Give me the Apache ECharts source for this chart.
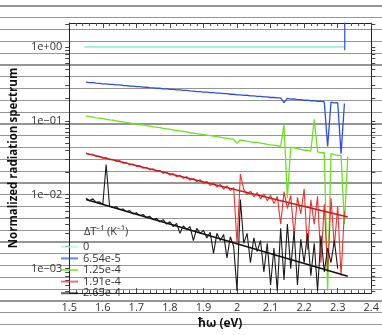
<!DOCTYPE html>
<html>
<head>
<meta charset="utf-8">
<script src="https://cdn.jsdelivr.net/npm/echarts@6.0.0/dist/echarts.min.js"></script>
<style>
  html, body { margin: 0; padding: 0; background: #fff; }
  .chart-box {
    width: 382px;
    height: 335px;
    /* the ruled grey lines of the scanned page */
    background-image: repeating-linear-gradient(to bottom, transparent 0px, transparent 5.4px, #959595 5.4px, #959595 6.6px, transparent 6.6px, transparent 11.8px);
  }
</style>
</head>
<body>
<div id="chart_spectrum" class="chart-box"></div>
<script>
  // photon energy, eV (sampling shared by the measured curves)
  var energy = [
    1.55, 1.56, 1.57, 1.58, 1.59, 1.60, 1.61, 1.62, 1.63, 1.64,
    1.65, 1.66, 1.67, 1.68, 1.69, 1.70, 1.71, 1.72, 1.73, 1.74,
    1.75, 1.76, 1.77, 1.78, 1.79, 1.80, 1.81, 1.82, 1.83, 1.84,
    1.85, 1.86, 1.87, 1.88, 1.89, 1.90, 1.91, 1.92, 1.93, 1.94,
    1.95, 1.96, 1.97, 1.98, 1.99, 2.00, 2.01, 2.02, 2.03, 2.04,
    2.05, 2.06, 2.07, 2.08, 2.09, 2.10, 2.11, 2.12, 2.13, 2.14,
    2.15, 2.16, 2.17, 2.18, 2.19, 2.20, 2.21, 2.22, 2.23, 2.24,
    2.25, 2.26, 2.27, 2.28, 2.29, 2.30, 2.31, 2.32, 2.33
  ];

  // ΔT^-1 = 0 : flat reference
  var flatEnergy = [1.545, 2.32];
  var flatLevel = [1, 1];

  // ΔT^-1 = 6.54e-5
  var blueVals = [
    0.335, 0.329, 0.330, 0.324, 0.322, 0.317, 0.317, 0.312, 0.311, 0.306,
    0.306, 0.301, 0.300, 0.296, 0.295, 0.290, 0.290, 0.286, 0.285, 0.281,
    0.280, 0.276, 0.276, 0.271, 0.271, 0.267, 0.266, 0.262, 0.262, 0.258,
    0.258, 0.254, 0.253, 0.249, 0.249, 0.245, 0.245, 0.241, 0.241, 0.237,
    0.237, 0.233, 0.233, 0.229, 0.229, 0.225, 0.225, 0.221, 0.222, 0.218,
    0.218, 0.214, 0.214, 0.211, 0.211, 0.207, 0.207, 0.204, 0.204, 0.176,
    0.201, 0.197, 0.198, 0.194, 0.194, 0.190, 0.191, 0.187, 0.188, 0.183,
    0.185, 0.180, 0.045, 0.179, 0.175, 0.176, 0.036, 0.172
  ];
  var blueSpikeEnergy = [2.321, 2.321];
  var blueSpikeVals = [3, 0.9];

  // ΔT^-1 = 1.25e-4
  var greenVals = [
    0.116, 0.114, 0.112, 0.110, 0.109, 0.107, 0.105, 0.103, 0.102, 0.100,
    0.098, 0.097, 0.095, 0.094, 0.092, 0.090, 0.089, 0.088, 0.086, 0.085,
    0.083, 0.082, 0.081, 0.079, 0.078, 0.077, 0.075, 0.074, 0.073, 0.072,
    0.071, 0.069, 0.068, 0.067, 0.066, 0.065, 0.064, 0.063, 0.062, 0.061,
    0.060, 0.059, 0.058, 0.057, 0.056, 0.050, 0.055, 0.054, 0.053, 0.052,
    0.051, 0.051, 0.050, 0.049, 0.048, 0.047, 0.047, 0.046, 0.045, 0.089,
    0.009, 0.044, 0.043, 0.042, 0.041, 0.040, 0.040, 0.039, 0.105, 0.038,
    0.037, 0.037, 0.0005, 0.036, 0.035, 0.034, 0.034, 0.004, 0.033
  ];

  // ΔT^-1 = 1.91e-4
  var redVals = [
    0.0368, 0.0350, 0.0352, 0.0330, 0.0333, 0.0312, 0.0318, 0.0298, 0.0301, 0.0283,
    0.0290, 0.0268, 0.0272, 0.0255, 0.0260, 0.0242, 0.0248, 0.0228, 0.0235, 0.0217,
    0.0224, 0.0205, 0.0213, 0.0195, 0.0203, 0.0184, 0.0193, 0.0175, 0.0184, 0.0166,
    0.0176, 0.0157, 0.0166, 0.0150, 0.0160, 0.0141, 0.0152, 0.0133, 0.0145, 0.0127,
    0.0138, 0.0119, 0.0132, 0.0114, 0.0125, 0.0022, 0.0190, 0.0118, 0.0100, 0.0112,
    0.0094, 0.0107, 0.0088, 0.0102, 0.0083, 0.0098, 0.0076, 0.0095, 0.0040, 0.0110,
    0.0065, 0.0098, 0.0028, 0.0092, 0.0055, 0.0120, 0.0018, 0.0085, 0.0040, 0.0095,
    0.0012, 0.0075, 0.0009, 0.0090, 0.0020, 0.0070, 0.0008, 0.0060
  ];

  // ΔT^-1 = 2.65e-4
  var blackVals = [
    0.0090, 0.0083, 0.0088, 0.0079, 0.0080, 0.0074, 0.0257, 0.0071, 0.0067, 0.0069,
    0.0063, 0.0064, 0.0059, 0.0061, 0.0055, 0.0057, 0.0052, 0.0054, 0.0049, 0.0051,
    0.0046, 0.0048, 0.0043, 0.0046, 0.0040, 0.0043, 0.0037, 0.0041, 0.0030, 0.0038,
    0.0034, 0.0037, 0.0024, 0.0035, 0.0030, 0.0033, 0.0026, 0.0031, 0.0016, 0.0030,
    0.0024, 0.0029, 0.0014, 0.0027, 0.0020, 0.0005, 0.0086, 0.0022, 0.0030, 0.0012,
    0.0026, 0.0017, 0.0024, 0.0009, 0.0022, 0.0006, 0.0019, 0.0005, 0.0035, 0.0007,
    0.0040, 0.0010, 0.0032, 0.0006, 0.0025, 0.0012, 0.0030, 0.0008, 0.0022, 0.0005,
    0.0028, 0.0009, 0.0019, 0.0012, 0.0024, 0.0010
  ];

  // exponential fits
  var fitEnergy = [1.55, 2.33];
  var redFit = [0.0363, 0.0050];
  var blackFit = [0.0086, 0.00079];

  // axis ticks
  var yLabelVals = [0.001, 0.01, 0.1, 1];
  var yTickVals = [
    0.0005, 0.0006, 0.0007, 0.0008, 0.0009,
    0.001, 0.002, 0.003, 0.004, 0.005, 0.006, 0.007, 0.008, 0.009,
    0.01, 0.02, 0.03, 0.04, 0.05, 0.06, 0.07, 0.08, 0.09,
    0.1, 0.2, 0.3, 0.4, 0.5, 0.6, 0.7, 0.8, 0.9,
    1, 2
  ];
  var legendNames = ['0', '6.54e-5', '1.25e-4', '1.91e-4', '2.65e-4'];
  var legendColors = ['#a6f2e2', '#2d4fe6', '#6ee022', '#f23030', '#1a1a1a'];

  function pairs(xs, ys) {
    return ys.map(function (y, i) { return [xs[i], y]; });
  }

  function expLabel(v) {
    var e = Math.round(Math.log10(v));
    if (Math.abs(Math.log10(v) - e) > 1e-6) return '';
    var a = Math.abs(e);
    return '1e' + (e < 0 ? '\u2212' : '+') + (a < 10 ? '0' + a : a);
  }

  var font = "'Open Sans', sans-serif";
  var YMIN = 0.000466, YMAX = 2.11;

  var myChart = echarts.init(document.getElementById('chart_spectrum'));
  var option = {
    backgroundColor: 'transparent',
    animation: false,
    textStyle: { fontFamily: font },
    title: {
      text: 'ΔT⁻¹ (K⁻¹)',
      left: 84,
      top: 226,
      padding: 0,
      textStyle: { fontSize: 11, fontWeight: 'normal', color: '#333', fontFamily: font }
    },
    legend: {
      orient: 'vertical',
      left: 61,
      top: 241,
      padding: 0,
      itemGap: 0,
      itemWidth: 17,
      itemHeight: 2,
      icon: 'rect',
      textStyle: { fontSize: 11, lineHeight: 11.6, color: '#333', fontFamily: font },
      data: legendNames.map(function (n, i) {
        return { name: n, itemStyle: { color: legendColors[i], opacity: 0.7 } };
      })
    },
    grid: { left: 54, right: 9, top: 23, bottom: 33 },
    xAxis: [
      {
        type: 'value',
        position: 'bottom',
        min: 1.5,
        max: 2.4,
        interval: 0.1,
        name: 'ħω (eV)',
        nameLocation: 'middle',
        nameGap: 21,
        nameTextStyle: { fontSize: 12, fontWeight: 'bold', color: '#111', fontFamily: font },
        axisLine: { lineStyle: { color: '#222', width: 1 } },
        axisTick: { inside: true, length: 5, lineStyle: { color: '#444' } },
        minorTick: { show: true, splitNumber: 5, length: 3, lineStyle: { color: '#555' } },
        axisLabel: { color: '#333', fontSize: 11, margin: 9, fontFamily: font },
        splitLine: { show: false }
      },
      {
        type: 'value',
        position: 'top',
        min: 1.5,
        max: 2.4,
        interval: 0.1,
        axisLine: { lineStyle: { color: '#222', width: 1 } },
        axisTick: { inside: true, length: 5, lineStyle: { color: '#444' } },
        minorTick: { show: true, splitNumber: 5, length: 3, lineStyle: { color: '#555' } },
        axisLabel: { show: false },
        splitLine: { show: false }
      }
    ],
    yAxis: [
      {
        type: 'log',
        logBase: 10,
        position: 'left',
        min: YMIN,
        max: YMAX,
        name: 'Normalized radiation spectrum',
        nameLocation: 'middle',
        nameGap: 38,
        nameTextStyle: { fontSize: 11.5, fontWeight: 'bold', color: '#111', fontFamily: font },
        axisLine: { show: true, lineStyle: { color: '#222', width: 1 } },
        axisTick: { show: true, length: 4, customValues: yTickVals, lineStyle: { color: '#444' } },
        axisLabel: { customValues: yLabelVals, formatter: expLabel, color: '#333', fontSize: 11, margin: 7, fontFamily: font },
        splitLine: { show: false }
      },
      {
        type: 'log',
        logBase: 10,
        position: 'right',
        min: YMIN,
        max: YMAX,
        axisLine: { show: true, lineStyle: { color: '#222', width: 1 } },
        axisTick: { show: true, length: 4, customValues: yTickVals, lineStyle: { color: '#444' } },
        axisLabel: { show: false },
        splitLine: { show: false }
      }
    ],
    series: [
      {
        name: '0', type: 'line', symbol: 'none',
        data: pairs(flatEnergy, flatLevel),
        color: legendColors[0], lineStyle: { width: 2.2 }
      },
      {
        name: '6.54e-5', type: 'line', symbol: 'none',
        data: pairs(energy, blueVals),
        color: legendColors[1], lineStyle: { width: 1.3 }
      },
      {
        name: 'blue-end', type: 'line', symbol: 'none',
        data: pairs(blueSpikeEnergy, blueSpikeVals),
        color: legendColors[1], lineStyle: { width: 1.2 }
      },
      {
        name: '1.25e-4', type: 'line', symbol: 'none',
        data: pairs(energy, greenVals),
        color: legendColors[2], lineStyle: { width: 1.3 }
      },
      {
        name: '1.91e-4', type: 'line', symbol: 'none',
        data: pairs(energy, redVals),
        color: legendColors[3], lineStyle: { width: 1.1 }
      },
      {
        name: '2.65e-4', type: 'line', symbol: 'none',
        data: pairs(energy, blackVals),
        color: legendColors[4], lineStyle: { width: 1.1 }
      },
      {
        name: 'red-fit', type: 'line', symbol: 'none',
        data: pairs(fitEnergy, redFit),
        color: '#c81818', lineStyle: { width: 1.4 }
      },
      {
        name: 'black-fit', type: 'line', symbol: 'none',
        data: pairs(fitEnergy, blackFit),
        color: '#111', lineStyle: { width: 1.6 }
      }
    ]
  };
  myChart.setOption(option);
</script>
</body>
</html>
